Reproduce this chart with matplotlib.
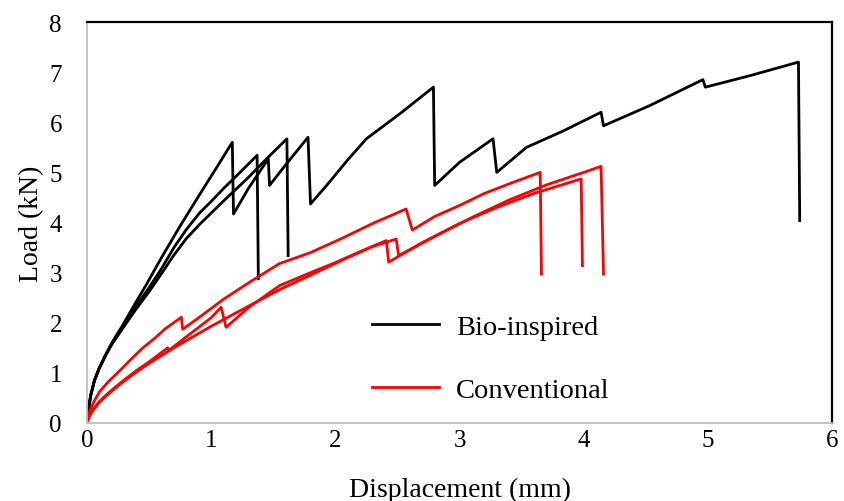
# Load-displacement curves: bio-inspired vs conventional specimens
import matplotlib; matplotlib.use("Agg"); import matplotlib.pyplot as plt

# bio-inspired specimens (black)
bio_a_x=[0,0.01,0.03,0.06,0.1,0.15,0.2,0.28,0.38,0.5,0.6,0.7,0.8,0.91,1.0,1.1,1.2,1.37,1.38]
bio_a_y=[0,0.25,0.55,0.85,1.1,1.35,1.58,1.88,2.28,2.7,3.08,3.5,3.86,4.2,4.42,4.68,4.92,5.34,2.88]
bio_b_x=[0,0.01,0.03,0.06,0.1,0.15,0.2,0.28,0.38,0.5,0.6,0.7,0.8,0.91,1.1,1.3,1.45,1.61,1.62]
bio_b_y=[0,0.25,0.55,0.85,1.1,1.35,1.57,1.86,2.22,2.62,2.98,3.35,3.68,3.97,4.43,4.9,5.28,5.67,3.34]
bio_c_x=[0,0.01,0.03,0.06,0.1,0.15,0.2,0.28,0.38,0.48,0.6,0.75,0.91,1.05,1.17,1.18,1.3,1.46,1.47,1.6,1.78,1.8,1.93,2.1,2.25,2.52,2.79,2.8,3.0,3.27,3.3,3.54,3.83,4.14,4.16,4.53,4.96,4.98,5.34,5.73,5.74]
bio_c_y=[0,0.25,0.55,0.85,1.1,1.36,1.6,1.92,2.35,2.77,3.3,3.93,4.57,5.12,5.6,4.17,4.68,5.27,4.74,5.15,5.7,4.37,4.74,5.25,5.67,6.17,6.7,4.74,5.2,5.67,5.0,5.5,5.82,6.2,5.93,6.33,6.85,6.7,6.93,7.2,4.04]

# conventional specimens (red)
con_a_x=[0,0.02,0.05,0.1,0.17,0.25,0.35,0.45,0.55,0.63,0.76,0.77,0.9,1.1,1.31,1.55,1.8,2.05,2.3,2.57,2.62,2.8,3.0,3.2,3.43,3.65,3.66]
con_a_y=[0,0.22,0.4,0.62,0.82,1.01,1.26,1.5,1.7,1.88,2.11,1.87,2.1,2.47,2.81,3.18,3.4,3.68,3.98,4.27,3.85,4.12,4.34,4.58,4.8,5.0,2.97]
con_b_x=[0,0.02,0.05,0.1,0.15,0.22,0.3,0.4,0.5,0.65,0.66,0.8,1.0,1.08,1.12,1.3,1.55,1.8,2.0,2.2,2.41,2.43,2.7,3.0,3.3,3.6,3.98,3.99]
con_b_y=[0,0.15,0.28,0.43,0.55,0.7,0.86,1.05,1.22,1.5,1.45,1.72,2.1,2.31,1.91,2.3,2.74,3.0,3.2,3.42,3.64,3.21,3.6,3.98,4.3,4.58,4.87,3.14]
con_c_x=[0,0.02,0.05,0.1,0.15,0.22,0.3,0.4,0.5,0.7,1.0,1.3,1.55,1.8,2.1,2.3,2.49,2.51,2.8,3.1,3.4,3.7,4.0,4.14,4.16]
con_c_y=[0,0.14,0.26,0.41,0.53,0.68,0.84,1.02,1.19,1.5,1.93,2.33,2.66,2.95,3.3,3.52,3.67,3.34,3.72,4.1,4.45,4.75,5.0,5.12,2.97]

xticks=[0,1,2,3,4,5,6]; yticks=[0,1,2,3,4,5,6,7,8]

plt.rcParams["font.family"]=["Liberation Serif","DejaVu Serif"]
fig=plt.figure(figsize=(8.44,5.02),dpi=100)
ax=fig.add_axes([87/844,78/502,745/844,401/502])
lw=2.0
ax.plot(bio_a_x,bio_a_y,color="black",lw=lw,label="Bio-inspired")
ax.plot(bio_b_x,bio_b_y,color="black",lw=lw)
ax.plot(bio_c_x,bio_c_y,color="black",lw=lw)
ax.plot(con_a_x,con_a_y,color="red",lw=lw,label="Conventional")
ax.plot(con_b_x,con_b_y,color="red",lw=lw)
ax.plot(con_c_x,con_c_y,color="red",lw=lw)

ax.set_xlim(0,6); ax.set_ylim(0,8)
ax.set_xticks(xticks); ax.set_yticks(yticks)
ax.tick_params(length=0,labelsize=18)
ax.tick_params(axis="y",pad=18); ax.tick_params(axis="x",pad=4)
for s in ["left","bottom"]:
    ax.spines[s].set_color("#BFBFBF"); ax.spines[s].set_linewidth(1.3)
for s in ["top","right"]:
    ax.spines[s].set_color("black"); ax.spines[s].set_linewidth(1.6)
ax.set_xlabel("Displacement (mm)",fontsize=20,labelpad=19)
ax.set_ylabel("Load (kN)",fontsize=20,labelpad=4)
ax.legend(loc="center left",bbox_to_anchor=(0.383,0.161),frameon=False,fontsize=20.5,
          handlelength=2.35,handletextpad=0.6,labelspacing=1.28,borderpad=0,borderaxespad=0)
fig.savefig("out.png",dpi=100)
